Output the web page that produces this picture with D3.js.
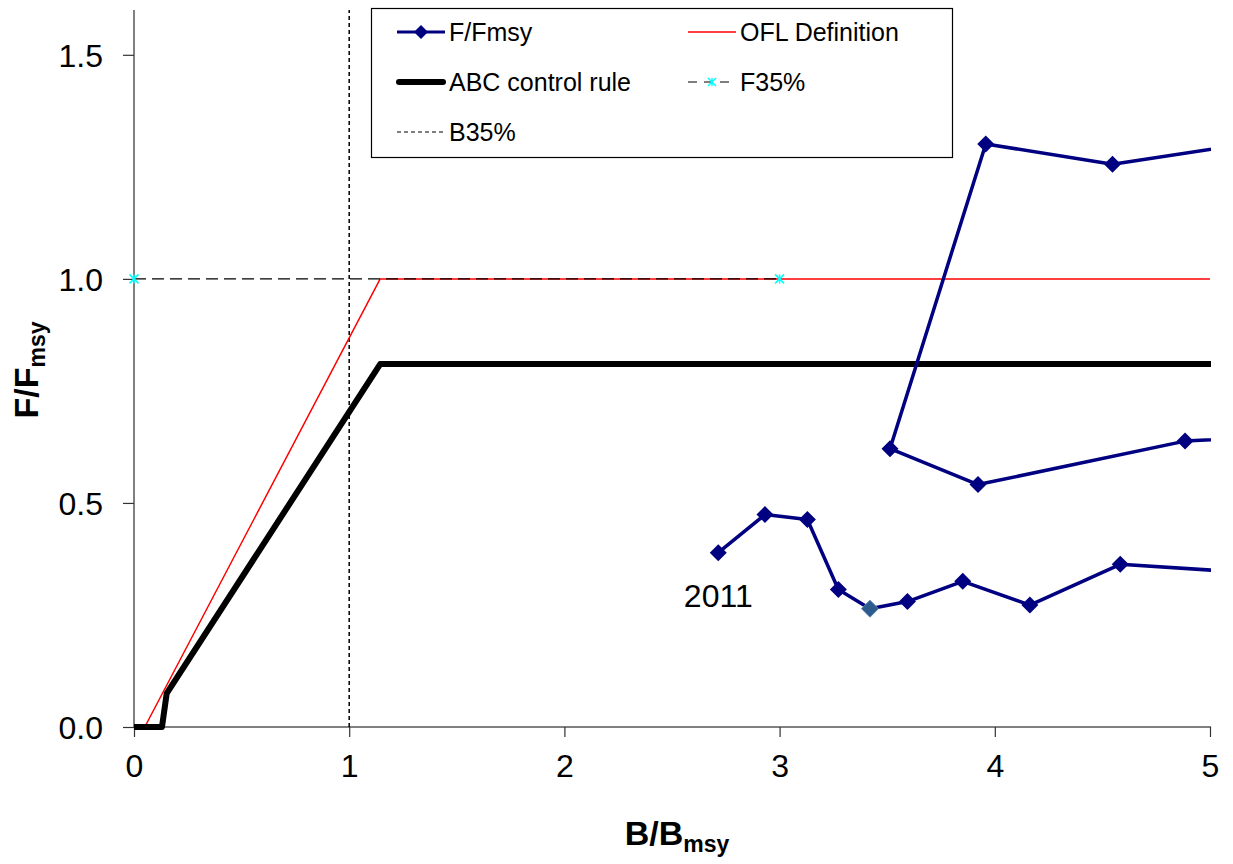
<!DOCTYPE html>
<html>
<head>
<meta charset="utf-8">
<script src="https://cdn.jsdelivr.net/npm/d3@7"></script>
<style>
  html, body { margin: 0; padding: 0; background: #fff; }
  svg { display: block; font-family: "Liberation Sans", Arial, sans-serif; }
</style>
</head>
<body>
<svg id="chart" width="1233" height="864"></svg>
<script>
// Stock trajectory: B/Bmsy and F/Fmsy by year (points beyond B/Bmsy = 5 run off the panel)
const trajB = [5.50, 4.547, 3.958, 3.513, 3.922, 4.884, 5.60, 5.30, 4.583, 4.163, 3.851, 3.594, 3.420, 3.273, 3.129, 2.932, 2.715];
const trajF = [1.325, 1.256, 1.301, 0.621, 0.541, 0.638, 0.655, 0.341, 0.363, 0.272, 0.325, 0.280, 0.264, 0.307, 0.463, 0.474, 0.389];
const highlightIndex = 12;      // point drawn in a lighter blue
const yearLabel = "2011";
const yearLabelIndex = 16;

// Harvest control rules
const oflB = [0.05, 1.144, 5];
const oflF = [0, 1, 1];
const abcB = [0, 0.13, 0.152, 1.144, 5];
const abcF = [0, 0, 0.075, 0.81, 0.81];

// Reference points
const f35B = [0, 3];
const f35F = [1, 1];
const b35B = [1, 1];
const b35F = [0, 1.6];

// Axis ticks
const xTicks = [0, 1, 2, 3, 4, 5];
const yTicks = [0, 0.5, 1.0, 1.5];

const svg = d3.select("#chart");
const plotLeft = 134, plotRight = 1210, plotTop = 10, plotBottom = 727;

const x = d3.scaleLinear().domain([0, 5]).range([plotLeft, plotRight]);
const y = d3.scaleLinear().domain([0, 1.6]).range([plotBottom, plotTop]);

const zip = (a, b) => a.map((v, i) => [v, b[i]]);
const line = d3.line().x(d => x(d[0])).y(d => y(d[1]));

svg.append("defs").append("clipPath").attr("id", "plot")
  .append("rect").attr("x", plotLeft).attr("y", plotTop - 20)
  .attr("width", plotRight - plotLeft + 1).attr("height", plotBottom - plotTop + 40);

// Axes
const xAxis = svg.append("g").attr("transform", `translate(0,${plotBottom})`)
  .call(d3.axisBottom(x).tickValues(xTicks).tickFormat(d3.format("d")).tickSize(10).tickPadding(18));
const yAxis = svg.append("g").attr("transform", `translate(${plotLeft},0)`)
  .call(d3.axisLeft(y).tickValues(yTicks).tickFormat(d3.format(".1f")).tickSize(11).tickPadding(20));
[xAxis, yAxis].forEach(g => {
  g.select(".domain").attr("stroke", "#808080").attr("stroke-width", 2);
  g.selectAll(".tick line").attr("stroke", "#333").attr("stroke-width", 1.2);
  g.selectAll(".tick text").attr("fill", "#000").attr("font-size", 32)
    .attr("font-family", "'Liberation Sans', Arial, sans-serif");
});
xAxis.select(".domain").attr("d", `M${plotLeft},0H${plotRight + 1}`);
yAxis.select(".domain").attr("d", `M0,${plotTop}V${plotBottom}`);
xAxis.selectAll(".tick text").attr("dy", "0.69em");
yAxis.selectAll(".tick text").attr("dy", "0.36em");

const plot = svg.append("g").attr("clip-path", "url(#plot)");

// B35% vertical reference
plot.append("path").datum(zip(b35B, b35F)).attr("d", line)
  .attr("fill", "none").attr("stroke", "#000").attr("stroke-width", 1.5)
  .attr("stroke-dasharray", "4,3");

// OFL definition
plot.append("path").datum(zip(oflB, oflF)).attr("d", line)
  .attr("fill", "none").attr("stroke", "#ff0000").attr("stroke-width", 1.5)
  .attr("stroke-linejoin", "round");

// F35% horizontal reference with star markers
plot.append("path").datum(zip(f35B, f35F)).attr("d", line)
  .attr("fill", "none").attr("stroke", "#000").attr("stroke-width", 1.2)
  .attr("stroke-dasharray", "12,6");

function star(g, cx, cy, r) {
  g.append("path")
    .attr("d", `M${cx - r},${cy - r}L${cx + r},${cy + r}M${cx - r},${cy + r}L${cx + r},${cy - r}M${cx},${cy - r}L${cx},${cy + r}`)
    .attr("stroke", "#00ffff").attr("stroke-width", 1.5).attr("fill", "none");
}
zip(f35B, f35F).forEach(d => star(svg, x(d[0]), y(d[1]), 4.5));

// ABC control rule
plot.append("path").datum(zip(abcB, abcF)).attr("d", line)
  .attr("fill", "none").attr("stroke", "#000").attr("stroke-width", 6)
  .attr("stroke-linejoin", "round").attr("stroke-linecap", "round");

// Stock trajectory
const traj = zip(trajB, trajF);
plot.append("path").datum(traj).attr("d", line)
  .attr("fill", "none").attr("stroke", "#000080").attr("stroke-width", 3.5)
  .attr("stroke-linejoin", "round");

const diamond = (cx, cy, r) => `M${cx},${cy - r}L${cx + r},${cy}L${cx},${cy + r}L${cx - r},${cy}Z`;
plot.selectAll("path.pt").data(traj).join("path").attr("class", "pt")
  .attr("d", d => diamond(x(d[0]), y(d[1]), 8.5))
  .attr("fill", (d, i) => i === highlightIndex ? "#2e5b8d" : "#000080")
  .attr("stroke", (d, i) => i === highlightIndex ? "#5a84b0" : "none")
  .attr("stroke-width", 1);

svg.append("text")
  .attr("x", x(trajB[yearLabelIndex])).attr("y", y(trajF[yearLabelIndex]) + 54)
  .attr("text-anchor", "middle").attr("font-size", 32).text(yearLabel);

// Axis titles
const xt = svg.append("text").attr("x", 677).attr("y", 845)
  .attr("text-anchor", "middle").attr("font-weight", "bold").attr("font-size", 34);
xt.append("tspan").text("B/B");
xt.append("tspan").attr("font-size", 23).attr("dy", 7).text("msy");

const yt = svg.append("text").attr("transform", "translate(38,370) rotate(-90)")
  .attr("text-anchor", "middle").attr("font-weight", "bold").attr("font-size", 34);
yt.append("tspan").text("F/F");
yt.append("tspan").attr("font-size", 23).attr("dy", 7).text("msy");

// Legend
const lg = svg.append("g");
lg.append("rect").attr("x", 371.5).attr("y", 8.5).attr("width", 581).attr("height", 149)
  .attr("fill", "#fff").attr("stroke", "#000").attr("stroke-width", 1.2);

const rowY = [32, 82, 132];
const col1 = 397, col2 = 688, sw = 48, tx = 4;
const legendText = (xx, yy, s) => lg.append("text").attr("x", xx + sw + tx).attr("y", yy + 9)
  .attr("font-size", 25).text(s);

lg.append("line").attr("x1", col1).attr("x2", col1 + sw).attr("y1", rowY[0]).attr("y2", rowY[0])
  .attr("stroke", "#000080").attr("stroke-width", 3);
lg.append("path").attr("d", diamond(col1 + sw / 2, rowY[0], 7)).attr("fill", "#000080");
legendText(col1, rowY[0], "F/Fmsy");

lg.append("line").attr("x1", col2).attr("x2", col2 + sw).attr("y1", rowY[0]).attr("y2", rowY[0])
  .attr("stroke", "#ff0000").attr("stroke-width", 1.5);
legendText(col2, rowY[0], "OFL Definition");

lg.append("line").attr("x1", col1 + 2).attr("x2", col1 + sw - 2).attr("y1", rowY[1]).attr("y2", rowY[1])
  .attr("stroke", "#000").attr("stroke-width", 6).attr("stroke-linecap", "round");
legendText(col1, rowY[1], "ABC control rule");

lg.append("line").attr("x1", col2).attr("x2", col2 + sw).attr("y1", rowY[1]).attr("y2", rowY[1])
  .attr("stroke", "#000").attr("stroke-width", 1.2).attr("stroke-dasharray", "9,7");
star(lg, col2 + sw / 2, rowY[1], 4);
legendText(col2, rowY[1], "F35%");

lg.append("line").attr("x1", col1).attr("x2", col1 + sw).attr("y1", rowY[2]).attr("y2", rowY[2])
  .attr("stroke", "#000").attr("stroke-width", 1.2).attr("stroke-dasharray", "4,3");
legendText(col1, rowY[2], "B35%");
</script>
</body>
</html>
